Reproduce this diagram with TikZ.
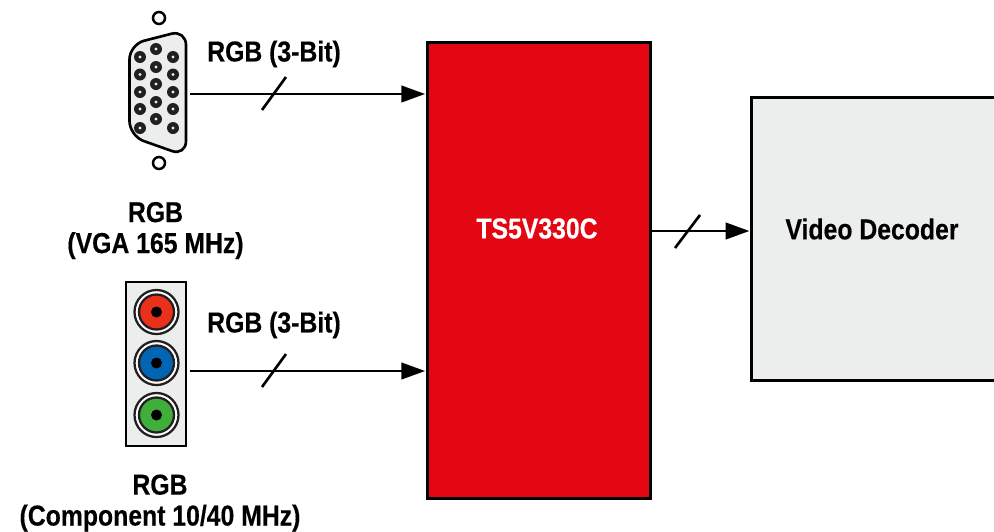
\documentclass[tikz,border=0pt]{standalone}
\usepackage{fontspec}
\setmainfont{Liberation Sans}[FakeStretch=0.86,BoldFeatures={FakeBold=0.35}]
\usetikzlibrary{arrows.meta}
\definecolor{panelgray}{HTML}{ECEEEE}
\definecolor{chipred}{HTML}{E30613}
\definecolor{jackred}{HTML}{E8301A}
\definecolor{jackblue}{HTML}{0066B3}
\definecolor{jackgreen}{HTML}{3FAE3A}
\definecolor{ringdark}{HTML}{231F20}
\tikzset{
  signal/.style={line width=1.6pt,shorten >=1.2pt,-{Triangle[length=13.6pt,width=9.4pt]}},
  slashmark/.style={line width=1.5pt},
  outline/.style={draw=black,line width=1.5pt},
  caption/.style={font=\bfseries\fontsize{16.4}{17.6}\selectfont,align=center,inner sep=0pt},
  pinhole/.style={fill=ringdark,draw=none},
  jackring/.style={draw=ringdark,fill=white,line width=1.3pt},
  jackcore/.style={draw=ringdark,line width=1.3pt},
}
\begin{document}
\begin{tikzpicture}[x=0.02cm,y=-0.02cm]
\useasboundingbox (0,0) rectangle (994,531);
% blocks
\node[outline,fill=chipred,minimum width=4.47cm,minimum height=9.13cm,outer sep=0pt] (dut) at (539,270.5) {};
\node[outline,fill=panelgray,minimum width=4.87cm,minimum height=5.67cm,outer sep=0pt] (decoder) at (994,239) [anchor=east,xshift=0.02cm] {};
\node[caption,text=white] (dutlabel) at (537,228.5) {TS5V330C};
\node[caption] (decoderlabel) at (872,229) {Video Decoder};
% vga connector
\draw[outline,fill=panelgray,rounded corners=0.3cm] (129.5,136) -- (129.5,44.5) -- (186,30) -- (186,156) -- cycle;
\draw[black,line width=1.4pt] (159,18) circle (6);
\draw[black,line width=1.4pt] (159,163) circle (6);
\fill[pinhole] (140,57) circle (6);
\fill[pinhole] (140,74.5) circle (6);
\fill[pinhole] (140,92) circle (6);
\fill[pinhole] (140,109) circle (6);
\fill[pinhole] (140,128) circle (6);
\fill[pinhole] (156,49) circle (6);
\fill[pinhole] (156,67) circle (6);
\fill[pinhole] (156,84) circle (6);
\fill[pinhole] (156,102) circle (6);
\fill[pinhole] (156,119) circle (6);
\fill[pinhole] (173,57) circle (6);
\fill[pinhole] (173,74.5) circle (6);
\fill[pinhole] (173,92) circle (6);
\fill[pinhole] (173,109) circle (6);
\fill[pinhole] (173,128) circle (6);
\fill[panelgray] (140,57) circle (1.6);
\fill[panelgray] (140,74.5) circle (1.6);
\fill[panelgray] (140,92) circle (1.6);
\fill[panelgray] (140,109) circle (1.6);
\fill[panelgray] (140,128) circle (1.6);
\fill[panelgray] (156,49) circle (1.6);
\fill[panelgray] (156,67) circle (1.6);
\fill[panelgray] (156,84) circle (1.6);
\fill[panelgray] (156,102) circle (1.6);
\fill[panelgray] (156,119) circle (1.6);
\fill[panelgray] (173,57) circle (1.6);
\fill[panelgray] (173,74.5) circle (1.6);
\fill[panelgray] (173,92) circle (1.6);
\fill[panelgray] (173,109) circle (1.6);
\fill[panelgray] (173,128) circle (1.6);
% component jacks
\draw[outline,fill=panelgray] (126,282) rectangle (186,446);
\draw[jackring] (156.5,312) circle (22);
\fill[jackred] (156.5,312) circle (17);
\draw[jackcore] (156.5,312) circle (17.5);
\fill[black] (156.5,312) circle (5.5);
\draw[jackring] (156.5,363) circle (22);
\fill[jackblue] (156.5,363) circle (17);
\draw[jackcore] (156.5,363) circle (17.5);
\fill[black] (156.5,363) circle (5.5);
\draw[jackring] (156.5,415) circle (22);
\fill[jackgreen] (156.5,415) circle (17);
\draw[jackcore] (156.5,415) circle (17.5);
\fill[black] (156.5,415) circle (5.5);
% signals
\coordinate (vgaout) at (190,94);
\coordinate (compout) at (190,371);
\coordinate (dutout) at (651,231);
\draw[signal] (vgaout) -- (vgaout -| dut.west);
\draw[signal] (compout) -- (compout -| dut.west);
\draw[signal] (dutout) -- (dutout -| decoder.west);
\draw[slashmark] (262,110) -- (286,77);
\draw[slashmark] (262,387) -- (286,354);
\draw[slashmark] (675,248) -- (700,215);
% captions
\node[caption] (vgabus) at (274,54) {RGB (3-Bit)};
\node[caption] (compbus) at (274,325) {RGB (3-Bit)};
\node[caption] (vganame) at (155.5,230.5) {RGB\\(VGA 165 MHz)};
\node[caption] (compname) at (160,503) {RGB\\(Component 10/40 MHz)};
\end{tikzpicture}
\end{document}
